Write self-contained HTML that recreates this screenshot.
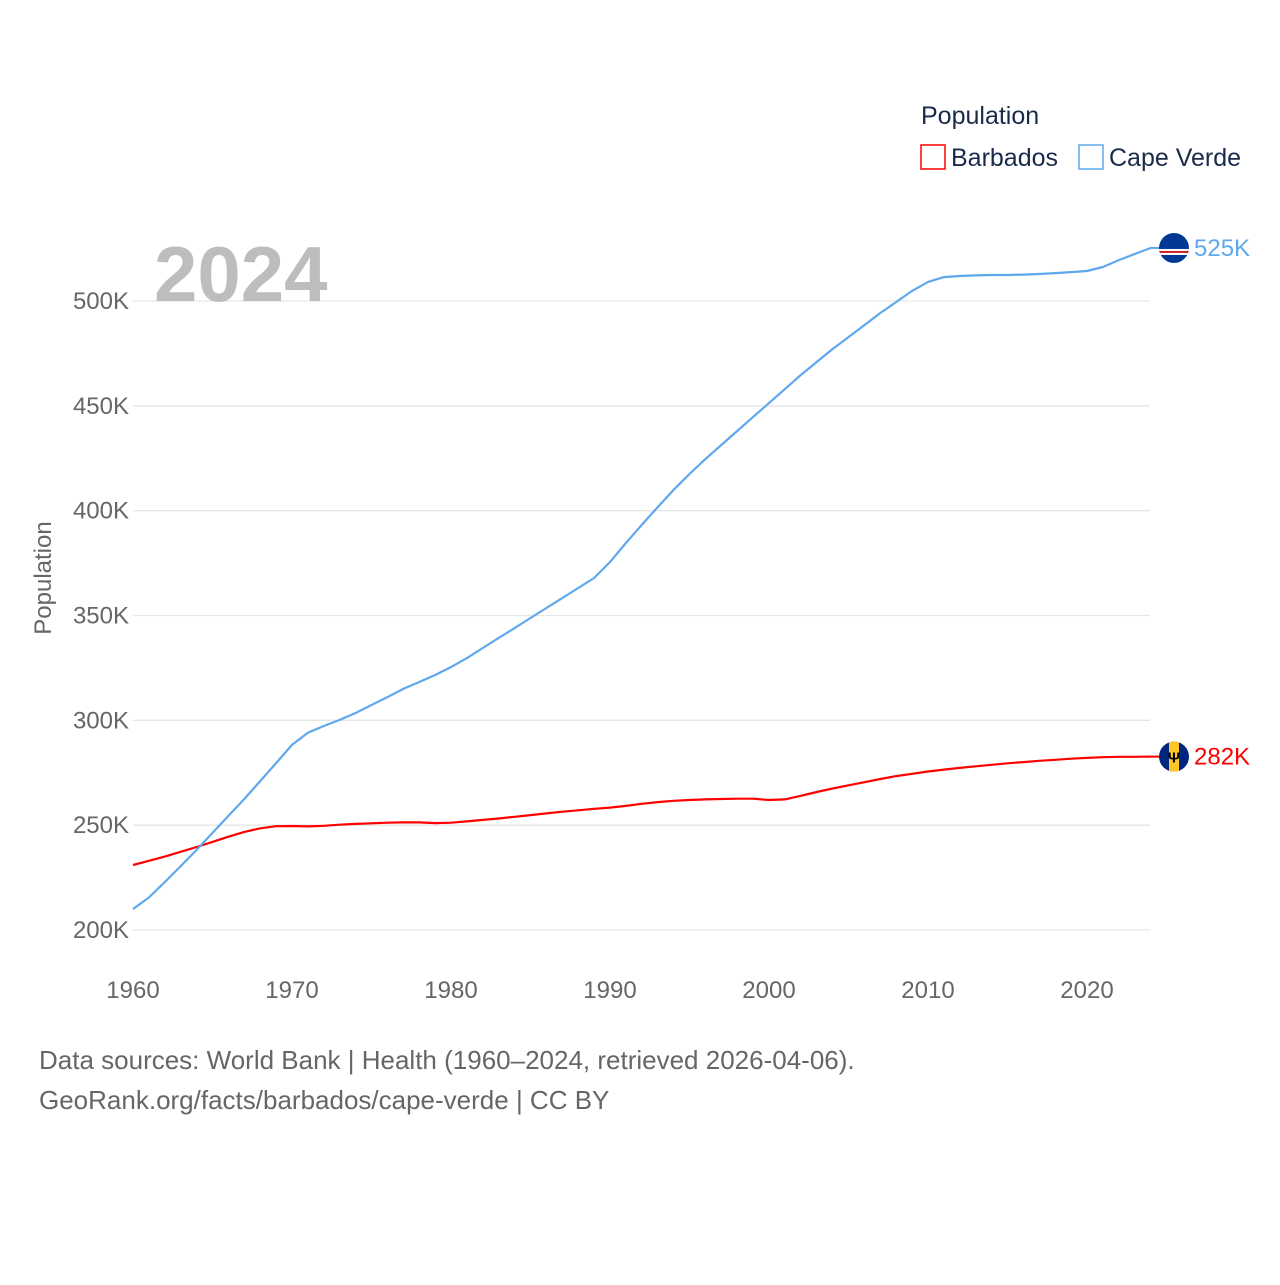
<!DOCTYPE html>
<html><head><meta charset="utf-8"><style>
body{margin:0;background:#fff;font-family:"Liberation Sans",sans-serif}
svg text{font-family:"Liberation Sans",sans-serif}
</style></head><body>
<svg width="1280" height="1280" viewBox="0 0 1280 1280">
<g id="grid"></g>
<g id="lines"></g>
<text x="154" y="301" font-size="78" font-weight="bold" fill="#bdbdbd">2024</text>
<text transform="translate(51,578) rotate(-90)" text-anchor="middle" font-size="24" fill="#666">Population</text>
<text x="921" y="124" font-size="25" fill="#1a2a4a">Population</text>
<g><rect x="921" y="145" width="24" height="24" fill="none" stroke="#ff0000" stroke-width="1.5"/><text x="951" y="166" font-size="25" fill="#1a2a4a">Barbados</text></g>
<g><rect x="1079" y="145" width="24" height="24" fill="none" stroke="#5fa8ee" stroke-width="1.5"/><text x="1109" y="166" font-size="25" fill="#1a2a4a">Cape Verde</text></g>
<text x="39" y="1069" font-size="26" fill="#666">Data sources: World Bank | Health (1960–2024, retrieved 2026-04-06).</text>
<text x="39" y="1109" font-size="26" fill="#666">GeoRank.org/facts/barbados/cape-verde | CC BY</text>
</svg>
<script>
const years=[];for(let y=1960;y<=2024;y++)years.push(y);
const barbados=[231,233,235,237.3,239.6,242,244.5,246.8,248.5,249.5,249.6,249.4,249.7,250.2,250.6,250.9,251.2,251.3,251.3,251.0,251.2,251.8,252.5,253.2,254,254.8,255.6,256.4,257.1,257.8,258.4,259.2,260.2,261,261.6,262,262.3,262.5,262.6,262.6,262.0,262.3,264,265.8,267.5,269,270.5,272,273.4,274.5,275.6,276.5,277.3,278.1,278.8,279.5,280.1,280.7,281.2,281.7,282.1,282.4,282.6,282.6,282.7];
const capeVerde=[210,215.5,222.9,230.5,238.2,246.3,254.4,262.5,271,279.6,288.3,294.1,297.3,300.2,303.5,307.3,311.1,315,318.3,321.6,325.4,329.7,334.5,339.3,344,348.8,353.6,358.3,363.1,367.9,375.5,384.6,393.2,401.7,409.9,417.5,424.6,431.3,438,444.7,451.3,458,464.7,470.9,477.1,482.8,488.5,494.3,499.5,504.8,509.1,511.4,511.9,512.2,512.4,512.4,512.6,512.9,513.3,513.8,514.3,516.2,519.5,522.4,525.3];
const yTicks=[200,250,300,350,400,450,500];
const xTicks=[1960,1970,1980,1990,2000,2010,2020];
const NS='http://www.w3.org/2000/svg';
const X=y=>133+(y-1960)*(1087-133)/60;
const Y=v=>930-(v-200)*(930-301)/300;
function mk(tag,attrs,parent){const e=document.createElementNS(NS,tag);for(const k in attrs)e.setAttribute(k,attrs[k]);parent.appendChild(e);return e;}
const grid=document.getElementById('grid'),lines=document.getElementById('lines');
yTicks.forEach(t=>{
 const l=mk('line',{x1:133,x2:1150,y1:Y(t),y2:Y(t),stroke:'#e6e6e6','stroke-width':1.3},grid);
 
 
 const tx=mk('text',{x:129,y:Y(t)+8,'text-anchor':'end','font-size':24,fill:'#666'},grid);
 tx.textContent=t+'K';
 
 
});
xTicks.forEach(t=>{
 const tx=mk('text',{x:X(t),y:998,'text-anchor':'middle','font-size':24,fill:'#666'},grid);
 tx.textContent=t;
 
 
});
function series(vals,color,name){
 const d=vals.map((v,i)=>(i?'L':'M')+X(years[i]).toFixed(1)+','+Y(v).toFixed(1)).join('');
 const p=mk('path',{d:d,fill:'none',stroke:color,'stroke-width':2.2,'stroke-linejoin':'round'},lines);
 
 
}
series(barbados,'#ff0000','barbados');
series(capeVerde,'#5fa8ee','cape-verde');
const bx=1174,by=Y(barbados[barbados.length-1]),cy=Y(capeVerde[capeVerde.length-1]);
mk('line',{x1:1150,x2:1160,y1:by,y2:by,stroke:'#ff0000','stroke-width':2},lines);
mk('line',{x1:1150,x2:1160,y1:cy,y2:cy,stroke:'#5fa8ee','stroke-width':2},lines);
const cpb=mk('clipPath',{id:'cb'},lines);mk('circle',{cx:bx,cy:by,r:15},cpb);
const fb=mk('g',{'clip-path':'url(#cb)'},lines);


mk('rect',{x:bx-15,y:by-15,width:30,height:30,fill:'#00267f'},fb);
mk('rect',{x:bx-5,y:by-15,width:10,height:30,fill:'#ffc726'},fb);
const tri=mk('text',{x:bx,y:by+6,'text-anchor':'middle','font-size':15,fill:'#000','font-weight':'bold'},fb);tri.textContent='Ψ';
const cpc=mk('clipPath',{id:'cc'},lines);mk('circle',{cx:bx,cy:cy,r:15},cpc);
const fc=mk('g',{'clip-path':'url(#cc)'},lines);


mk('rect',{x:bx-15,y:cy-15,width:30,height:30,fill:'#003893'},fc);
mk('rect',{x:bx-15,y:cy+1,width:30,height:6,fill:'#fff'},fc);
mk('rect',{x:bx-15,y:cy+3,width:30,height:2,fill:'#cf2027'},fc);
const lb=mk('text',{x:1194,y:by+8,'font-size':24,fill:'#ff0000'},lines);lb.textContent='282K';


const lc=mk('text',{x:1194,y:cy+8,'font-size':24,fill:'#5fa8ee'},lines);lc.textContent='525K';


</script>
</body></html>
